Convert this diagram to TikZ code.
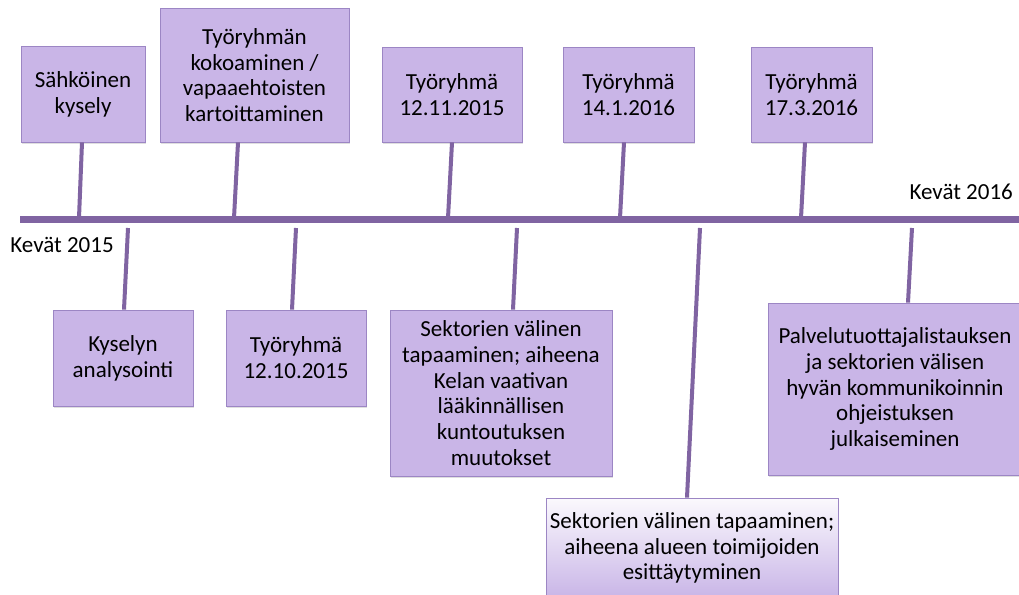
\documentclass[tikz,border=0pt]{standalone}
\usepackage{fontspec}
\setmainfont{Carlito}
\usetikzlibrary{shadows}
\definecolor{boxfill}{HTML}{C9B5E7}
\definecolor{boxline}{HTML}{9C86C4}
\definecolor{lineviolet}{HTML}{8064A2}
\tikzset{
  eventbox/.style={draw=boxline,fill=boxfill,line width=0.8pt,align=center,
    inner sep=0pt,font=\fontsize{23}{25.8}\selectfont,
    drop shadow={shadow xshift=1pt,shadow yshift=-2pt,opacity=0.25}},
  stemline/.style={draw=lineviolet,line width=4pt},
  axisline/.style={draw=lineviolet,line width=7pt},
  datelabel/.style={font=\fontsize{23}{25.8}\selectfont,inner sep=0pt}
}
\begin{document}
\begin{tikzpicture}[x=1pt,y=-1pt]
\useasboundingbox[fill=white] (0,0) rectangle (1019,594);

% time axis
\draw[axisline] (20,219) -- (1019,219);
\node[datelabel] (spring15) at (62,245) {Kevät 2015};
\node[datelabel,anchor=east] (spring16) at (1013,192) {Kevät 2016};

% points on the axis
\coordinate (t1) at (79,218);
\coordinate (t2) at (234,218);
\coordinate (t3) at (448,218);
\coordinate (t4) at (620,218);
\coordinate (t5) at (801,218);
\coordinate (t6) at (128,228);
\coordinate (t7) at (296,228);
\coordinate (t8) at (517,228);
\coordinate (t9) at (700,228);
\coordinate (t10) at (912,228);

% events above
\node[eventbox,minimum width=124,minimum height=96] (survey) at (83,94)
  {Sähköinen\\kysely};
\node[eventbox,minimum width=189,minimum height=134] (group) at (254.5,75)
  {Työryhmän\\kokoaminen /\\vapaaehtoisten\\kartoittaminen};
\node[eventbox,minimum width=140,minimum height=95] (wg1511) at (452,94.5)
  {Työryhmä\\12.11.2015};
\node[eventbox,minimum width=131,minimum height=95] (wg1601) at (628.5,94.5)
  {Työryhmä\\14.1.2016};
\node[eventbox,minimum width=121,minimum height=95] (wg1603) at (811.5,94.5)
  {Työryhmä\\17.3.2016};

% events below
\node[eventbox,minimum width=140,minimum height=96] (analysis) at (123,358)
  {Kyselyn\\analysointi};
\node[eventbox,minimum width=140,minimum height=96] (wg1510) at (296,358)
  {Työryhmä\\12.10.2015};
\node[eventbox,minimum width=222,minimum height=166] (kela) at (501,393)
  {Sektorien välinen\\tapaaminen; aiheena\\Kelan vaativan\\lääkinnällisen\\kuntoutuksen\\muutokset};
\node[eventbox,minimum width=292,minimum height=100,
  path picture={\shade[top color=white!92!boxfill,middle color=boxfill,bottom color=boxfill]
    (path picture bounding box.north west) rectangle (path picture bounding box.south east);}]
  (actors) at (692,548)
  {Sektorien välinen tapaaminen;\\aiheena alueen toimijoiden\\esittäytyminen};
\node[eventbox,minimum width=254,minimum height=172] (guide) at (895,389)
  {Palvelutuottajalistauksen\\ja sektorien välisen\\hyvän kommunikoinnin\\ohjeistuksen\\julkaiseminen};

% stems
\draw[stemline] ([xshift=-1]survey.south) -- (t1);
\draw[stemline] ([xshift=-16.5]group.south) -- (t2);
\draw[stemline] (wg1511.south) -- (t3);
\draw[stemline] ([xshift=-4.5]wg1601.south) -- (t4);
\draw[stemline] ([xshift=-6.5]wg1603.south) -- (t5);
\draw[stemline] (t6) -- ([xshift=1]analysis.north);
\draw[stemline] (t7) -- ([xshift=-4]wg1510.north);
\draw[stemline] (t8) -- ([xshift=12]kela.north);
\draw[stemline] (t9) -- ([xshift=-5]actors.north);
\draw[stemline] (t10) -- ([xshift=13]guide.north);
\end{tikzpicture}
\end{document}
